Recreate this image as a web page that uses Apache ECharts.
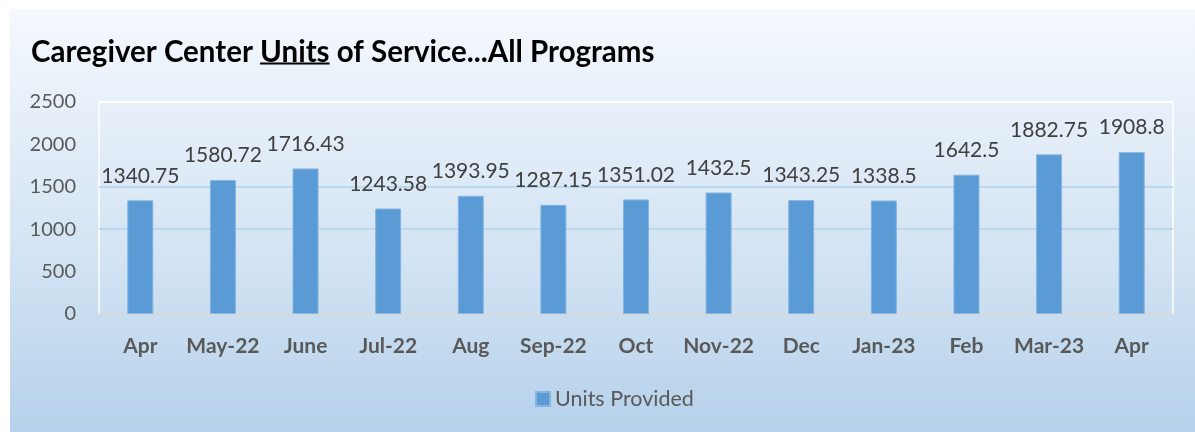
<!DOCTYPE html>
<html>
<head>
<meta charset="utf-8">
<script src="https://cdn.jsdelivr.net/npm/echarts@6/dist/echarts.min.js"></script>
<style>
  html, body { margin: 0; padding: 0; background: #ffffff; }
  #chart { width: 1195px; height: 432px; }
</style>
</head>
<body>
<div id="chart"></div>
<script>
// Monthly units of service, all programs
const months = ['Apr', 'May-22', 'June', 'Jul-22', 'Aug', 'Sep-22', 'Oct', 'Nov-22', 'Dec', 'Jan-23', 'Feb', 'Mar-23', 'Apr'];
const unitsProvided = [1340.75, 1580.72, 1716.43, 1243.58, 1393.95, 1287.15, 1351.02, 1432.5, 1343.25, 1338.5, 1642.5, 1882.75, 1908.8];
const seriesName = 'Units Provided';
const titleParts = ['Caregiver Center ', 'Units', ' of Service...All Programs'];
const yMin = 0, yMax = 2500, yStep = 500;

const FONT = 'Lato, "Open Sans", sans-serif';
const titleFont = 'bold 29.5px Lato';

// measure title pieces so the underline sits under "Units"
const ctx = document.createElement('canvas').getContext('2d');
ctx.font = titleFont;
const titleX = 31, titleMid = 52.5, titleBaseline = 62;
const w0 = ctx.measureText(titleParts[0]).width;
const w1 = ctx.measureText(titleParts[1]).width;

const chart = echarts.init(document.getElementById('chart'), null, { renderer: 'canvas' });

chart.setOption({
  animation: false,
  backgroundColor: '#ffffff',
  graphic: [
    {
      type: 'rect', z: -10, silent: true,
      shape: { x: 10, y: 9, width: 1185, height: 423 },
      style: {
        fill: new echarts.graphic.LinearGradient(0, 0, 0, 1, [
          { offset: 0, color: '#f5f8fd' },
          { offset: 0.25, color: '#e6eff9' },
          { offset: 0.6, color: '#d2e3f3' },
          { offset: 1, color: '#b5d1eb' }
        ])
      }
    },
    {
      type: 'text', x: titleX, y: titleMid, silent: true,
      style: { text: titleParts.join(''), font: titleFont, fill: '#000000', verticalAlign: 'middle' }
    },
    {
      type: 'line', silent: true,
      shape: { x1: titleX + w0, y1: titleBaseline + 1.5, x2: titleX + w0 + w1, y2: titleBaseline + 1.5 },
      style: { stroke: '#000000', lineWidth: 2 }
    }
  ],
  legend: {
    data: [seriesName],
    left: 530, top: 383,
    icon: 'rect', itemWidth: 14, itemHeight: 14, itemGap: 6,
    textStyle: { fontFamily: FONT, fontSize: 21.5, color: '#595959' }
  },
  grid: {
    left: 99, right: 22, top: 102, bottom: 118,
    show: true, borderColor: 'rgba(255,255,255,0.75)', borderWidth: 2,
    backgroundColor: 'transparent'
  },
  xAxis: {
    type: 'category',
    data: months,
    axisLine: { show: true, lineStyle: { color: '#d9d9d9', width: 2 } },
    axisTick: { show: false },
    axisLabel: {
      interval: 0, margin: 22,
      fontFamily: FONT, fontSize: 21, fontWeight: 'bold', color: '#595959'
    }
  },
  yAxis: {
    type: 'value',
    min: yMin, max: yMax, interval: yStep,
    axisLine: { show: false },
    axisTick: { show: false },
    axisLabel: {
      margin: 23, fontFamily: FONT, fontSize: 20, color: '#595959',
      formatter: v => String(v)
    },
    splitLine: {
      show: true,
      lineStyle: {
        width: 2,
        color: ['transparent', 'transparent', '#bdd7ee', '#bdd7ee', 'transparent', 'rgba(255,255,255,0.75)']
      }
    }
  },
  series: [{
    name: seriesName,
    type: 'bar',
    data: unitsProvided,
    barWidth: '31.5%',
    itemStyle: { color: '#5b9bd5', borderColor: '#86b5e2', borderWidth: 1 },
    label: {
      show: true, position: 'top', distance: 14,
      fontFamily: FONT, fontSize: 21, color: '#404040',
      formatter: p => String(p.value)
    }
  }]
});
</script>
</body>
</html>
